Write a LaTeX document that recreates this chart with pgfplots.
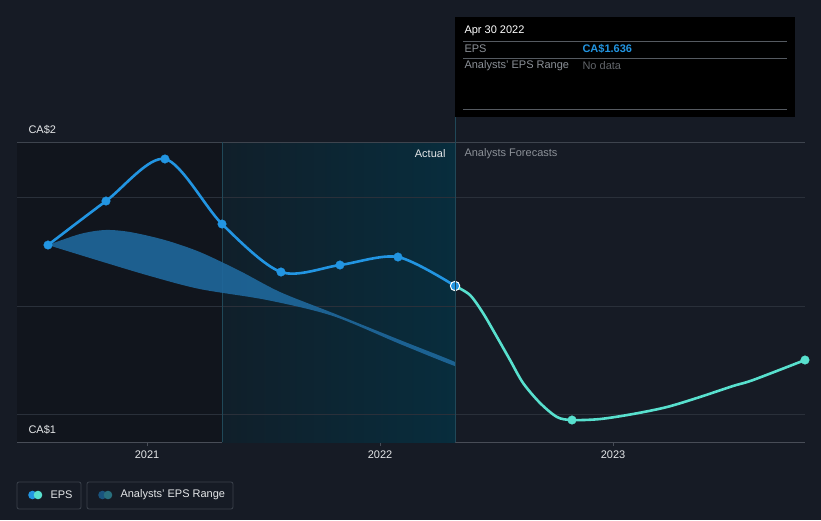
\documentclass[border=0pt]{standalone}
\usepackage{pgfplots}
\pgfplotsset{compat=1.18}
\usepackage{fontspec}
\setmainfont{Liberation Sans}
\definecolor{bg}{RGB}{22,27,37}
\definecolor{darkreg}{RGB}{17,21,29}
\definecolor{tealA}{RGB}{16,31,42}
\definecolor{tealB}{RGB}{8,45,61}
\definecolor{gridc}{RGB}{42,48,58}
\definecolor{topline}{RGB}{62,68,78}
\definecolor{axisc}{RGB}{72,77,87}
\definecolor{epsblue}{RGB}{34,149,226}
\definecolor{epsteal}{RGB}{88,224,206}
\definecolor{bandc}{RGB}{31,104,156}
\definecolor{txt}{RGB}{228,230,232}
\definecolor{gtxt}{RGB}{140,145,152}
\definecolor{vline}{RGB}{32,72,88}
\definecolor{legbox}{RGB}{60,66,76}

\pgfplotstableread{
x y
2020.575 1.7124
2020.824 1.7935
2021.077 1.8710
2021.322 1.7511
2021.575 1.6627
2021.828 1.6756
2022.077 1.6903
2022.322 1.6369
}\epsdata

\pgfplotstableread{
x y
2022.322 1.6369
2022.386 1.6203
2022.442 1.5871
2022.502 1.5429
2022.558 1.5005
2022.614 1.4581
2022.687 1.4212
2022.760 1.3954
2022.824 1.3899
2022.944 1.3917
2023.086 1.4010
2023.232 1.4139
2023.373 1.4323
2023.515 1.4526
2023.601 1.4636
2023.824 1.5005
}\fcdata

\pgfplotstableread{
x y
2022.824 1.3899
2023.824 1.5005
}\fcmarks

% analysts' EPS range: upper edge left to right, then lower edge right to left
\pgfplotstableread{
x y
2020.575 1.7124
2020.712 1.7327
2020.820 1.7401
2020.927 1.7364
2021.077 1.7216
2021.227 1.6995
2021.399 1.6645
2021.571 1.6258
2021.798 1.5871
2022.086 1.5373
2022.322 1.4968
2022.322 1.4894
2022.086 1.5300
2021.798 1.5816
2021.515 1.6111
2021.227 1.6313
2021.013 1.6553
2020.798 1.6829
2020.575 1.7124
}\band

\begin{document}
\begin{tikzpicture}[x=1pt,y=1pt,font=\fontsize{11}{13}\selectfont]
\fill[bg] (0,0) rectangle (821,520);
\begin{axis}[
  at={(17pt,78pt)}, anchor=south west,
  scale only axis, width=788pt, height=300pt,
  xmin=2020.442, xmax=2023.824, ymin=1.3494, ymax=1.9023,
  axis x line*=bottom, axis y line=none,
  x axis line style={axisc, line width=1pt},
  xtick={2021,2022,2023},
  xticklabel style={txt, font=\fontsize{11}{13}\selectfont, yshift=-1pt},
  /pgf/number format/1000 sep={},
  /pgf/number format/assume math mode=true,
  major tick length=4pt, tick align=outside,
  x tick style={axisc, line width=0.8pt},
  clip=false,
]
\fill[darkreg] (axis cs:2020.442,1.3494) rectangle (axis cs:2021.322,1.9023);
\fill[left color=tealA, right color=tealB] (axis cs:2021.322,1.3494) rectangle (axis cs:2022.322,1.9023);
\draw[gridc, line width=1pt] (axis cs:2020.442,1.4) -- (axis cs:2023.824,1.4);
\draw[gridc, line width=1pt] (axis cs:2020.442,1.6) -- (axis cs:2023.824,1.6);
\draw[gridc, line width=1pt] (axis cs:2020.442,1.8) -- (axis cs:2023.824,1.8);
\draw[topline, line width=1pt] (axis cs:2020.442,1.9023) -- (axis cs:2023.824,1.9023);
\draw[vline, line width=1pt] (axis cs:2021.322,1.3494) -- (axis cs:2021.322,1.9023);
% band
\begin{scope}
\clip (axis cs:2020.442,1.3494) rectangle (axis cs:2022.322,1.9023);
\addplot[fill=bandc, fill opacity=0.9, draw=none, smooth] table[x=x,y=y] {\band};
\end{scope}
% lines
\addplot[epsteal, line width=2.6pt, smooth, tension=0.5] table[x=x,y=y] {\fcdata};
\addplot[epsblue, line width=2.6pt, smooth] table[x=x,y=y] {\epsdata};
\addplot[only marks, mark=*, mark size=4.4pt, mark options={fill=epsblue, draw=epsblue, line width=0.1pt}] table[x=x,y=y] {\epsdata};
\addplot[only marks, mark=*, mark size=4.4pt, mark options={fill=epsteal, draw=epsteal, line width=0.1pt}] table[x=x,y=y] {\fcmarks};
\addplot[only marks, mark=*, mark size=4.7pt, mark options={fill=epsblue, draw=white, line width=1pt}] coordinates {(2022.322,1.6369)};
\end{axis}
% vertical line at Apr 30 2022
\draw[vline, line width=1pt] (455,78) -- (455,403);
% y labels
\node[anchor=west, txt] at (25,390) {CA\$2};
\node[anchor=west, txt] at (25,90) {CA\$1};
% section labels
\node[anchor=east, txt] at (449,366) {Actual};
\node[anchor=west, gtxt] at (461,366) {Analysts Forecasts};
% tooltip
\fill[black] (455,403) rectangle (795,503);
\node[anchor=west, white] at (461,489) {Apr 30 2022};
\draw[gridc!80!white, line width=0.8pt] (463,479) -- (787,479);
\node[anchor=west, gtxt] at (461,471) {EPS};
\node[anchor=west, epsblue] at (579,471) {\bfseries CA\$1.636};
\draw[gridc!80!white, line width=0.8pt] (463,462) -- (787,462);
\node[anchor=west, gtxt] at (461,454) {Analysts' EPS Range};
\node[anchor=west, gtxt!70!black] at (579,454) {No data};
\draw[gridc!80!white, line width=0.8pt] (463,411) -- (787,411);
% legend
\draw[legbox, line width=0.8pt, rounded corners=2pt] (17,11) rectangle (81,38);
\fill[epsblue] (32.5,25) circle (4.3);
\fill[epsteal] (38,25) circle (4.3);
\node[anchor=west, txt] at (47,25) {EPS};
\draw[legbox, line width=0.8pt, rounded corners=2pt] (87,11) rectangle (233,38);
\fill[bandc!80!black] (102.5,25) circle (4.3);
\fill[epsteal!45!bandc!70!black] (108,25) circle (4.3);
\node[anchor=west, txt] at (117,25) {Analysts' EPS Range};
\end{tikzpicture}
\end{document}
